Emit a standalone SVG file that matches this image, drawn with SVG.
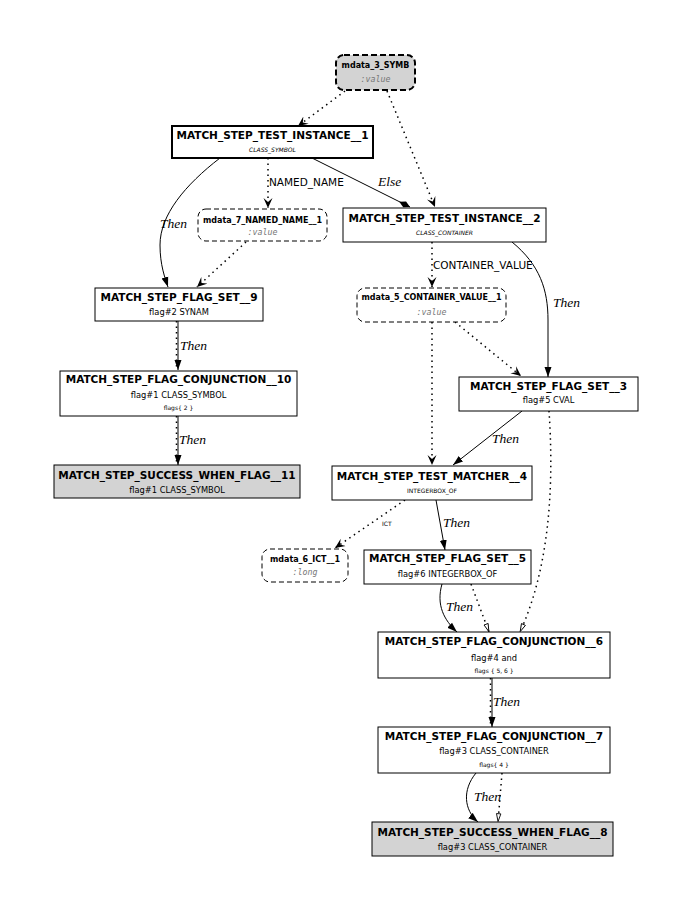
<svg xmlns="http://www.w3.org/2000/svg" width="681" height="911" viewBox="0 0 681 911">
<style>
.bg{fill:#fff}
.box{fill:#fff;stroke:#000;stroke-width:1}
.thick{stroke-width:2}
.gray{fill:#d3d3d3}
.mdata{fill:#fff;stroke:#000;stroke-width:1;stroke-dasharray:5,3}
.mdata3{fill:#d3d3d3;stroke:#000;stroke-width:2;stroke-dasharray:6,3}
.t{font-family:"DejaVu Sans",sans-serif;font-weight:bold;font-size:10.5px;text-anchor:middle;fill:#000}
.mt{font-family:"DejaVu Sans",sans-serif;font-weight:bold;font-size:8px;text-anchor:middle;fill:#000}
.s{font-family:"DejaVu Sans",sans-serif;font-size:8.3px;text-anchor:middle;fill:#000}
.xs{font-family:"DejaVu Sans",sans-serif;font-size:6px;text-anchor:middle;fill:#000}
.xsi{font-family:"DejaVu Sans",sans-serif;font-size:6px;font-style:italic;text-anchor:middle;fill:#000}
.v{font-family:"DejaVu Sans Mono",monospace;font-size:8.3px;font-style:italic;text-anchor:middle;fill:#777}
.el{font-family:"Liberation Serif",serif;font-style:italic;font-size:13.5px;fill:#000}
.es{font-family:"DejaVu Sans",sans-serif;font-size:10.5px;fill:#000}
.ex{font-family:"DejaVu Sans",sans-serif;font-size:6px;fill:#000}
.solid{fill:none;stroke:#000;stroke-width:1}
.dot{fill:none;stroke:#000;stroke-width:1.5;stroke-dasharray:1.5,4}
.fa{marker-end:url(#filled)}
.va{marker-end:url(#vee)}
.ha{marker-end:url(#hollow)}
.da{marker-end:url(#diamond)}
</style>
<defs>
<marker id="filled" viewBox="0 0 10 8" refX="10" refY="4" markerWidth="10" markerHeight="8" markerUnits="userSpaceOnUse" orient="auto"><path d="M0,0.5 L10,4 L0,7.5 z" fill="#000"/></marker>
<marker id="vee" viewBox="0 0 10 10" refX="10" refY="5" markerWidth="10" markerHeight="10" markerUnits="userSpaceOnUse" orient="auto"><path d="M0,0.5 L10,5 L0,9.5 L4,5 z" fill="#000"/></marker>
<marker id="hollow" viewBox="0 0 10 8" refX="10" refY="4" markerWidth="9" markerHeight="7" markerUnits="userSpaceOnUse" orient="auto"><path d="M0.5,1.5 L9.5,4 L0.5,6.5 z" fill="#fff" stroke="#000" stroke-width="1"/></marker>
<marker id="diamond" viewBox="0 0 12 8" refX="12" refY="4" markerWidth="12" markerHeight="8" markerUnits="userSpaceOnUse" orient="auto"><path d="M0,4 L6,0.8 L12,4 L6,7.2 z" fill="#000"/></marker>
</defs>
<rect class="bg" x="0" y="0" width="681" height="911"/>

<g id="connectors">
<path class="dot va" d="M345,91 L298,126"/>
<path class="dot va" d="M387,91 L435,207"/>
<path class="solid da" d="M312,158 L410,207"/>
<text class="el" x="378" y="186">Else</text>
<path class="dot va" d="M268,158 L268,208"/>
<text class="es" x="269" y="186">NAMED_NAME</text>
<path class="solid fa" d="M220,158 C185,185 160,215 160,245 C160,265 165,278 168,287"/>
<text class="el" x="160" y="228">Then</text>
<path class="dot va" d="M246,242 L197,287"/>
<path class="dot" d="M176.5,321 L176.5,370"/>
<path class="solid fa" d="M178,321 L178,370"/>
<text class="el" x="180" y="350">Then</text>
<path class="dot" d="M176.5,416 L176.5,465"/>
<path class="solid fa" d="M178,416 L178,465"/>
<text class="el" x="179" y="444">Then</text>
<path class="dot va" d="M432,242 L432,287"/>
<text class="es" x="433" y="269">CONTAINER_VALUE</text>
<path class="solid fa" d="M512,242 C540,265 548,290 548,320 L548,377"/>
<text class="el" x="553" y="307">Then</text>
<path class="dot va" d="M455,322 L521,376"/>
<path class="dot va" d="M432,322 L432,465"/>
<path class="solid fa" d="M522,411 L453,465"/>
<text class="el" x="492" y="443">Then</text>
<path class="dot ha" d="M549,411 C553,470 553,560 520,632"/>
<path class="dot va" d="M405,500 L335,548"/>
<text class="ex" x="382" y="526">ICT</text>
<path class="solid fa" d="M436,500 L445,550"/>
<text class="el" x="443" y="527">Then</text>
<path class="solid fa" d="M442,584 C436,605 444,620 457,632"/>
<text class="el" x="446" y="611">Then</text>
<path class="dot ha" d="M471,584 L489,632"/>
<path class="dot" d="M490.5,678 L490.5,727"/>
<path class="solid fa" d="M492,678 L492,727"/>
<text class="el" x="493" y="706">Then</text>
<path class="solid fa" d="M476,773 C462,790 464,810 478,822"/>
<text class="el" x="474" y="801">Then</text>
<path class="dot ha" d="M502,773 L498,822"/>
</g>

<g id="mdata_3_SYMB">
<rect class="mdata3" x="336" y="55" width="79" height="35" rx="8"/>
<text class="mt" x="375.5" y="68">mdata_3_SYMB</text>
<text class="v" x="375.5" y="82">:value</text>
</g>
<g id="MATCH_STEP_TEST_INSTANCE__1">
<rect class="box thick" x="172" y="126" width="201" height="32"/>
<text class="t" x="272.5" y="139">MATCH_STEP_TEST_INSTANCE__1</text>
<text class="xsi" x="272.5" y="152">CLASS_SYMBOL</text>
</g>
<g id="mdata_7_NAMED_NAME__1">
<rect class="mdata" x="198" y="209" width="129" height="32" rx="8"/>
<text class="mt" x="262.5" y="223">mdata_7_NAMED_NAME__1</text>
<text class="v" x="262.5" y="235">:value</text>
</g>
<g id="MATCH_STEP_TEST_INSTANCE__2">
<rect class="box" x="343" y="208" width="203" height="34"/>
<text class="t" x="444.5" y="222">MATCH_STEP_TEST_INSTANCE__2</text>
<text class="xsi" x="444.5" y="235">CLASS_CONTAINER</text>
</g>
<g id="MATCH_STEP_FLAG_SET__9">
<rect class="box" x="95" y="288" width="168" height="33"/>
<text class="t" x="179" y="301">MATCH_STEP_FLAG_SET__9</text>
<text class="s" x="179" y="315">flag#2 SYNAM</text>
</g>
<g id="mdata_5_CONTAINER_VALUE__1">
<rect class="mdata" x="357" y="288" width="149" height="34" rx="8"/>
<text class="mt" x="431.5" y="300">mdata_5_CONTAINER_VALUE__1</text>
<text class="v" x="431.5" y="315">:value</text>
</g>
<g id="MATCH_STEP_FLAG_SET__3">
<rect class="box" x="459" y="377" width="179" height="34"/>
<text class="t" x="548.5" y="390">MATCH_STEP_FLAG_SET__3</text>
<text class="s" x="548.5" y="403">flag#5 CVAL</text>
</g>
<g id="MATCH_STEP_FLAG_CONJUNCTION__10">
<rect class="box" x="60" y="371" width="237" height="45"/>
<text class="t" x="178.5" y="383">MATCH_STEP_FLAG_CONJUNCTION__10</text>
<text class="s" x="178.5" y="398">flag#1 CLASS_SYMBOL</text>
<text class="xs" x="178.5" y="410">flags{ 2 }</text>
</g>
<g id="MATCH_STEP_SUCCESS_WHEN_FLAG__11">
<rect class="box gray" x="54" y="465" width="246" height="33"/>
<text class="t" x="177" y="479">MATCH_STEP_SUCCESS_WHEN_FLAG__11</text>
<text class="s" x="177" y="493">flag#1 CLASS_SYMBOL</text>
</g>
<g id="MATCH_STEP_TEST_MATCHER__4">
<rect class="box" x="332" y="466" width="200" height="34"/>
<text class="t" x="432" y="480">MATCH_STEP_TEST_MATCHER__4</text>
<text class="xs" x="432" y="493">INTEGERBOX_OF</text>
</g>
<g id="mdata_6_ICT__1">
<rect class="mdata" x="262" y="549" width="86" height="33" rx="8"/>
<text class="mt" x="305" y="562">mdata_6_ICT__1</text>
<text class="v" x="305" y="575">:long</text>
</g>
<g id="MATCH_STEP_FLAG_SET__5">
<rect class="box" x="364" y="550" width="167" height="34"/>
<text class="t" x="447.5" y="562">MATCH_STEP_FLAG_SET__5</text>
<text class="s" x="447.5" y="577">flag#6 INTEGERBOX_OF</text>
</g>
<g id="MATCH_STEP_FLAG_CONJUNCTION__6">
<rect class="box" x="378" y="632" width="232" height="46"/>
<text class="t" x="494" y="645">MATCH_STEP_FLAG_CONJUNCTION__6</text>
<text class="s" x="494" y="661">flag#4 and</text>
<text class="xs" x="494" y="673">flags { 5, 6 }</text>
</g>
<g id="MATCH_STEP_FLAG_CONJUNCTION__7">
<rect class="box" x="378" y="727" width="232" height="46"/>
<text class="t" x="494" y="740">MATCH_STEP_FLAG_CONJUNCTION__7</text>
<text class="s" x="494" y="754">flag#3 CLASS_CONTAINER</text>
<text class="xs" x="494" y="767">flags{ 4 }</text>
</g>
<g id="MATCH_STEP_SUCCESS_WHEN_FLAG__8">
<rect class="box gray" x="372" y="822" width="241" height="34"/>
<text class="t" x="492.5" y="836">MATCH_STEP_SUCCESS_WHEN_FLAG__8</text>
<text class="s" x="492.5" y="850">flag#3 CLASS_CONTAINER</text>
</g>
</svg>
